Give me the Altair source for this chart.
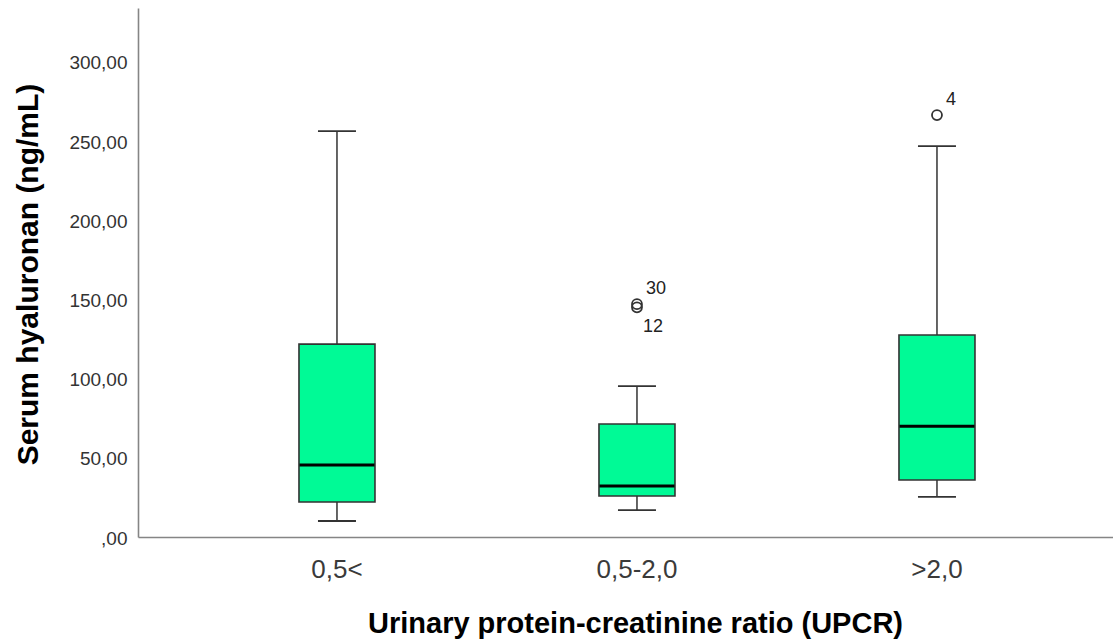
import altair as alt
import pandas as pd

# ---- data ----
groups = ["0,5<", "0,5-2,0", ">2,0"]
whisker_low = [10.1, 17.0, 25.3]
q1 = [22.1, 25.9, 36.0]
median = [45.5, 32.2, 70.0]
q3 = [121.8, 71.3, 127.5]
whisker_high = [256.3, 95.3, 246.8]

outlier_group = ["0,5-2,0", "0,5-2,0", ">2,0"]
outlier_value = [147.0, 145.0, 266.4]
outlier_id = ["30", "12", "4"]

y_ticks = [0, 50, 100, 150, 200, 250, 300]

stats = pd.DataFrame({
    "group": groups, "low": whisker_low, "q1": q1,
    "median": median, "q3": q3, "high": whisker_high,
})
outs = pd.DataFrame({"group": outlier_group, "value": outlier_value, "id": outlier_id})

FONT = "Liberation Sans"
EDGE = "#333333"

xscale = alt.Scale(domain=groups, paddingInner=0, paddingOuter=0.125, align=0.653)
yscale = alt.Scale(domain=[0, 334], nice=False, zero=False)

x_enc = alt.X(
    "group:N", scale=xscale, sort=groups,
    axis=alt.Axis(
        title="Urinary protein-creatinine ratio (UPCR)",
        labelAngle=0, ticks=False, tickSize=0, grid=False,
        labelFont=FONT, labelFontSize=26, labelColor="#3a3a3a",
        labelBaseline="alphabetic", labelPadding=40,
        titleFont=FONT, titleFontSize=29, titleFontWeight="bold", titleColor="#000000",
        titleBaseline="alphabetic", titleY=95, titleX=497, titleAlign="center",
        domainColor="#858585", domainWidth=1.6,
    ),
)
y_axis = alt.Axis(
    title="Serum hyaluronan (ng/mL)",
    values=y_ticks, ticks=False, tickSize=0, grid=False,
    labelExpr="datum.value == 0 ? ',00' : replace(format(datum.value, '.2f'), '.', ',')",
    labelFont=FONT, labelFontSize=19, labelColor="#333333", labelPadding=11, labelOffset=1,
    titleFont=FONT, titleFontSize=30, titleFontWeight="bold", titleColor="#000000",
    titleAngle=270, titleBaseline="alphabetic", titleX=-101, titleY=266, titleAlign="center",
    domainColor="#858585", domainWidth=1.6,
)

base = alt.Chart(stats)

whisker = base.mark_rule(color=EDGE, strokeWidth=1.5, opacity=1).encode(
    x=x_enc,
    y=alt.Y("low:Q", scale=yscale, axis=y_axis),
    y2="high:Q",
)
caps_low = base.mark_tick(color=EDGE, size=38, thickness=1.8, opacity=1).encode(
    x=alt.X("group:N", scale=xscale, sort=groups), y=alt.Y("low:Q", scale=yscale)
)
caps_high = base.mark_tick(color=EDGE, size=38, thickness=1.8, opacity=1).encode(
    x=alt.X("group:N", scale=xscale, sort=groups), y=alt.Y("high:Q", scale=yscale)
)
box = base.mark_bar(size=76, color="#00FA96", stroke=EDGE, strokeWidth=1.6, opacity=1).encode(
    x=alt.X("group:N", scale=xscale, sort=groups),
    y=alt.Y("q1:Q", scale=yscale),
    y2="q3:Q",
)
med = base.mark_tick(color="#000000", size=75, thickness=3, opacity=1).encode(
    x=alt.X("group:N", scale=xscale, sort=groups), y=alt.Y("median:Q", scale=yscale)
)

obase = alt.Chart(outs)
opts = obase.mark_point(shape="circle", filled=False, size=100, color=EDGE, strokeWidth=1.8, opacity=1).encode(
    x=alt.X("group:N", scale=xscale, sort=groups), y=alt.Y("value:Q", scale=yscale)
)
lab_above = obase.transform_filter(
    alt.FieldOneOfPredicate(field="id", oneOf=["30", "4"])
).mark_text(
    align="left", baseline="alphabetic", dx=9, dy=-10, font=FONT, fontSize=18, color="#222222"
).encode(
    x=alt.X("group:N", scale=xscale, sort=groups), y=alt.Y("value:Q", scale=yscale), text="id:N"
)
lab_below = obase.transform_filter(
    alt.FieldOneOfPredicate(field="id", oneOf=["12"])
).mark_text(
    align="left", baseline="alphabetic", dx=6, dy=25, font=FONT, fontSize=18, color="#222222"
).encode(
    x=alt.X("group:N", scale=xscale, sort=groups), y=alt.Y("value:Q", scale=yscale), text="id:N"
)

chart = alt.layer(
    whisker, caps_low, caps_high, box, med, opts, lab_above, lab_below
).properties(
    width=975, height=529,
    padding={"left": 138, "top": 8, "right": 0, "bottom": 105},
    autosize=alt.AutoSizeParams(type="none"),
    background="#ffffff",
).configure_view(stroke=None)

chart.save("out.html", embed_options={"renderer": "svg", "actions": False})
